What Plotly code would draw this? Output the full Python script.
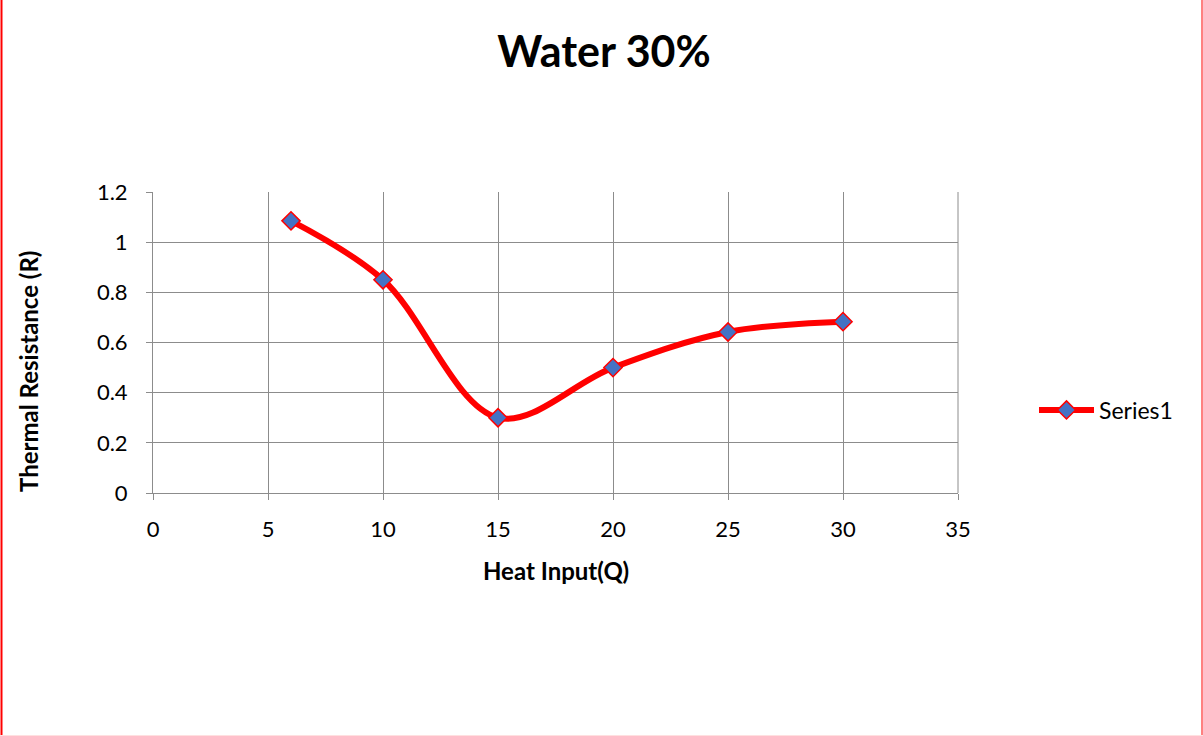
import plotly.graph_objects as go

heat_input = [6, 10, 15, 20, 25, 30]
thermal_resistance = [1.085, 0.85, 0.30, 0.50, 0.642, 0.683]
series_name = "Series1"

W, H = 1203, 736
L, R, T, B = 153, 958, 192, 493

font = "Lato, 'Open Sans', sans-serif"

fig = go.Figure()
fig.add_trace(go.Scatter(
    x=heat_input, y=thermal_resistance, name=series_name,
    mode="lines+markers",
    line=dict(color="#ff0000", width=6, shape="spline", smoothing=1.0),
    marker=dict(symbol="diamond", size=14, color="#4472c4",
                line=dict(color="#ff0000", width=1.5)),
))

def px_x(p):
    return (p - L) / (R - L)

def px_y(p):
    return (B - p) / (B - T)

fig.update_layout(
    width=W, height=H,
    margin=dict(l=L, r=W - R, t=T, b=H - B),
    paper_bgcolor="white", plot_bgcolor="white",
    font=dict(family=font, color="#000000"),
    title=dict(text="<b>Water 30%</b>", x=604 / W, xref="container", xanchor="center",
               y=1 - 52 / H, yanchor="middle", font=dict(size=43)),
    showlegend=True,
    legend=dict(x=px_x(1034), y=px_y(410), xanchor="left", yanchor="middle",
                font=dict(size=23), bgcolor="rgba(0,0,0,0)", itemwidth=55),
    xaxis=dict(range=[0, 35], tick0=0, dtick=5, showgrid=True, gridcolor="#8c8c8c",
               gridwidth=1, showline=True, linecolor="#8c8c8c", linewidth=1,
               ticks="outside", ticklen=6, tickcolor="#8c8c8c",
               tickfont=dict(size=22), zeroline=False, mirror=False,
               ticklabelstandoff=11),
    yaxis=dict(range=[0, 1.2], tick0=0, dtick=0.2, showgrid=True, gridcolor="#8c8c8c",
               gridwidth=1, showline=True, linecolor="#8c8c8c", linewidth=1,
               ticks="outside", ticklen=6, tickcolor="#8c8c8c",
               tickfont=dict(size=22), zeroline=False, ticklabelstandoff=14),
    annotations=[
        dict(text="<b>Heat Input(Q)</b>", xref="paper", yref="paper",
             x=px_x(556), y=px_y(570), showarrow=False, font=dict(size=24),
             xanchor="center", yanchor="middle"),
        dict(text="<b>Thermal Resistance (R)</b>", xref="paper", yref="paper",
             x=px_x(28), y=px_y(372), showarrow=False, font=dict(size=24),
             textangle=-90, xanchor="center", yanchor="middle"),
    ],
    shapes=[
        dict(type="line", xref="paper", yref="paper", x0=px_x(1.5), x1=px_x(1.5),
             y0=px_y(0), y1=px_y(736), line=dict(color="#ff0000", width=2)),
        dict(type="line", xref="paper", yref="paper", x0=px_x(1202), x1=px_x(1202),
             y0=px_y(0), y1=px_y(736), line=dict(color="#ff8080", width=2)),
        dict(type="line", xref="paper", yref="paper", x0=px_x(0), x1=px_x(1203),
             y0=px_y(735.5), y1=px_y(735.5), line=dict(color="#ffe0e0", width=1)),
        dict(type="line", xref="paper", yref="paper", x0=1, x1=1,
             y0=0, y1=1, line=dict(color="#8c8c8c", width=1), layer="below"),
    ],
)

fig.write_html("out.html")
